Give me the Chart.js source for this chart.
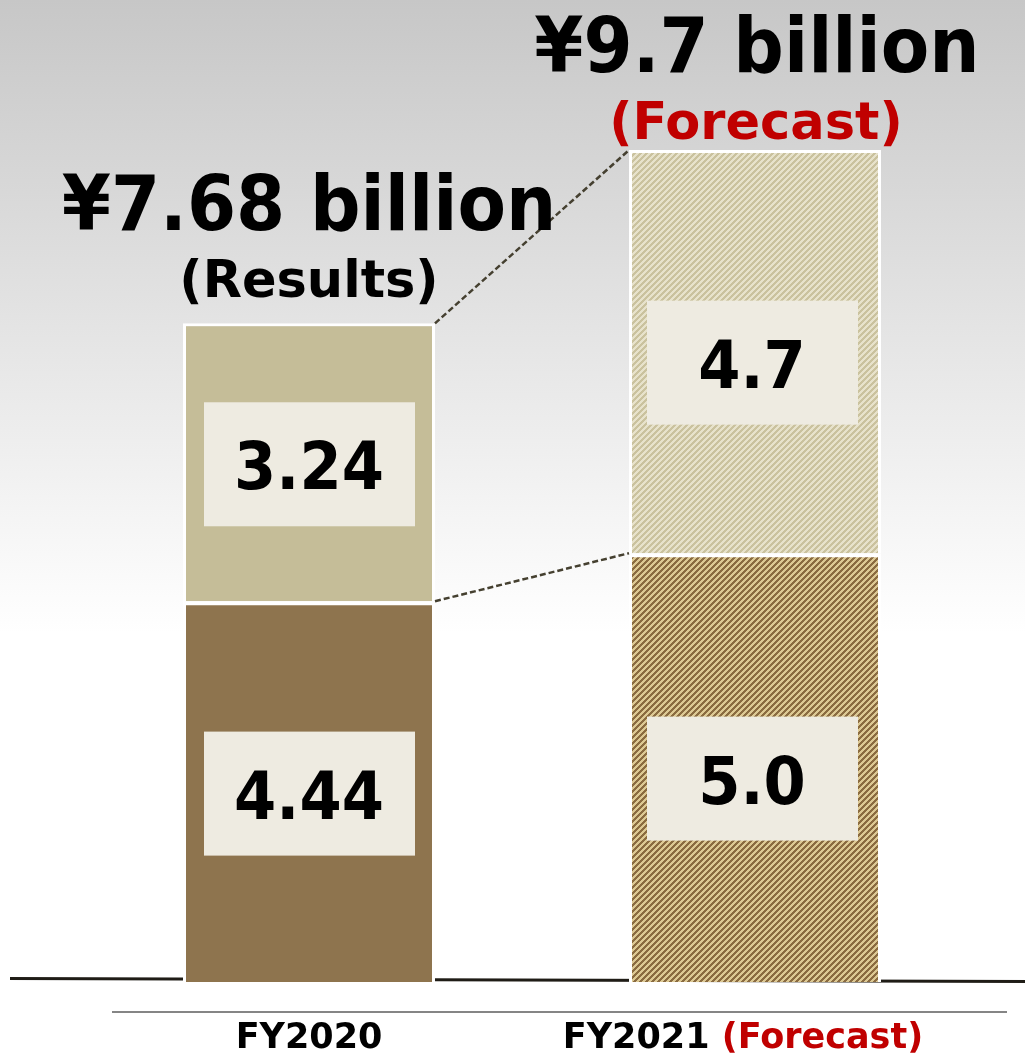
<!DOCTYPE html>
<html>
<head>
<meta charset="utf-8">
<script src="https://cdn.jsdelivr.net/npm/chart.js@4/dist/chart.umd.min.js"></script>
<style>
  html, body { margin: 0; padding: 0; background: #fff; }
  #wrap { width: 1025px; height: 1054px; }
</style>
</head>
<body>
<div id="wrap"><canvas id="salesChart" width="1025" height="1054"></canvas></div>
<script>
// fiscal years and the two stacked parts (¥ billion)
const categories = ['FY2020', 'FY2021'];
const lowerValues = [4.44, 5.0];
const upperValues = [3.24, 4.7];
const lowerLabels = ['4.44', '5.0'];
const upperLabels = ['3.24', '4.7'];
const totalLabels = ['¥7.68 billion', '¥9.7 billion'];
const noteLabels = ['(Results)', '(Forecast)'];
const axisNotes = ['', '(Forecast)'];

const FONT = '"DejaVu Sans", sans-serif';

// fine diagonal hatch used for the forecast bar
function hatch(dark, light) {
    const n = 6;
    const c = document.createElement('canvas');
    c.width = n; c.height = n;
    const g = c.getContext('2d');
    for (let y = 0; y < n; y++) {
        for (let x = 0; x < n; x++) {
            g.fillStyle = ((x + y) % n) < n / 2 ? dark : light;
            g.fillRect(x, y, 1, 1);
        }
    }
    return g.createPattern(c, 'repeat');
}

const lowerHatch = hatch('#8a6b40', '#dcc893');
const upperHatch = hatch('#cac29e', '#e7e2cb');

// text squeezed horizontally, a bit narrower than the plain face
function squeezed(ctx, text, x, y, font, sx) {
    ctx.save();
    ctx.font = font;
    ctx.translate(x, y);
    ctx.scale(sx, 1);
    ctx.fillText(text, 0, 0);
    ctx.restore();
}

const backdrop = {
    id: 'backdrop',
    beforeDraw(chart) {
        const ctx = chart.ctx;
        const g = ctx.createLinearGradient(0, 0, 0, chart.height);
        g.addColorStop(0, '#c7c7c7');
        g.addColorStop(0.6, '#ffffff');
        g.addColorStop(1, '#ffffff');
        ctx.save();
        ctx.fillStyle = g;
        ctx.fillRect(0, 0, chart.width, chart.height);
        ctx.restore();
    },
    beforeDatasetsDraw(chart) {
        const ctx = chart.ctx;
        const base = chart.scales.y.getPixelForValue(0);
        ctx.save();
        // baseline under the bars
        ctx.strokeStyle = '#1f1c16';
        ctx.lineWidth = 3;
        ctx.beginPath();
        ctx.moveTo(10, base - 3.5);
        ctx.lineTo(chart.width, base - 0.5);
        ctx.stroke();
        // thin rule above the year labels
        ctx.strokeStyle = '#858585';
        ctx.lineWidth = 2;
        ctx.beginPath();
        ctx.moveTo(112, base + 30);
        ctx.lineTo(1007, base + 30);
        ctx.stroke();
        ctx.restore();
    }
};

const annotations = {
    id: 'annotations',
    afterDatasetsDraw(chart) {
        const ctx = chart.ctx;
        const lower = chart.getDatasetMeta(0).data;
        const upper = chart.getDatasetMeta(1).data;
        ctx.save();

        // dashed connectors between the two bars
        ctx.strokeStyle = '#454030';
        ctx.lineWidth = 2.5;
        ctx.setLineDash([6, 3]);
        [upper, lower].forEach(bars => {
            const a = bars[0], b = bars[1];
            ctx.beginPath();
            ctx.moveTo(a.x + a.width / 2, a.y);
            ctx.lineTo(b.x - b.width / 2, b.y);
            ctx.stroke();
        });
        ctx.setLineDash([]);

        // value boxes inside each segment
        ctx.textAlign = 'center';
        ctx.textBaseline = 'alphabetic';
        const box = (bar, text, i) => {
            const cx = bar.x - (i === 1 ? 3 : 0);
            const cy = (bar.y + bar.base) / 2 + (i === 1 ? 11 : 2);
            ctx.fillStyle = '#eeebe1';
            ctx.fillRect(cx - 105, cy - 62, 211, 124);
            ctx.fillStyle = '#000';
            squeezed(ctx, text, cx, cy + 25, 'bold 66px ' + FONT, 0.92);
        };
        lower.forEach((bar, i) => box(bar, lowerLabels[i], i));
        upper.forEach((bar, i) => box(bar, upperLabels[i], i));

        // totals above the bars
        upper.forEach((bar, i) => {
            const noteY = bar.y - (i === 0 ? 26 : 11);
            ctx.fillStyle = i === 0 ? '#000' : '#c00000';
            squeezed(ctx, noteLabels[i], bar.x + (i === 0 ? 0 : 1), noteY, 'bold 51px ' + FONT, 1);
            ctx.fillStyle = '#000';
            squeezed(ctx, totalLabels[i], bar.x + (i === 0 ? 0 : 2), noteY - 67, 'bold 76px ' + FONT, 0.93);
        });

        // year labels under the axis
        const y = chart.scales.y.getPixelForValue(0) + 66;
        ctx.font = 'bold 35px ' + FONT;
        ctx.textAlign = 'left';
        lower.forEach((bar, i) => {
            const main = categories[i];
            const note = axisNotes[i] ? ' ' + axisNotes[i] : '';
            const w1 = ctx.measureText(main).width;
            const w = w1 + ctx.measureText(note).width;
            const x0 = bar.x - w / 2 - (note ? 12 : 0);
            ctx.fillStyle = '#000';
            ctx.fillText(main, x0, y);
            if (note) {
                ctx.fillStyle = '#c00000';
                ctx.fillText(note, x0 + w1, y);
            }
        });
        ctx.restore();
    }
};

new Chart(document.getElementById('salesChart'), {
    type: 'bar',
    data: {
        labels: categories,
        datasets: [{
            data: lowerValues,
            backgroundColor: ['#8e744e', lowerHatch],
            borderColor: '#ffffff',
            borderWidth: { top: 4, left: 3, right: 3, bottom: 0 },
            borderSkipped: false
        }, {
            data: upperValues,
            backgroundColor: ['#c5bd98', upperHatch],
            borderColor: '#ffffff',
            borderWidth: { top: 3, left: 3, right: 3, bottom: 0 },
            borderSkipped: false
        }]
    },
    options: {
        responsive: false,
        animation: false,
        barPercentage: 0.565,
        categoryPercentage: 1,
        layout: { padding: { left: 86, right: 47, top: 0, bottom: 72 } },
        plugins: { legend: { display: false }, tooltip: { enabled: false } },
        scales: {
            x: { stacked: true, display: false },
            y: { stacked: true, display: false, min: 0, max: 11.45 }
        }
    },
    plugins: [backdrop, annotations]
});
</script>
</body>
</html>
